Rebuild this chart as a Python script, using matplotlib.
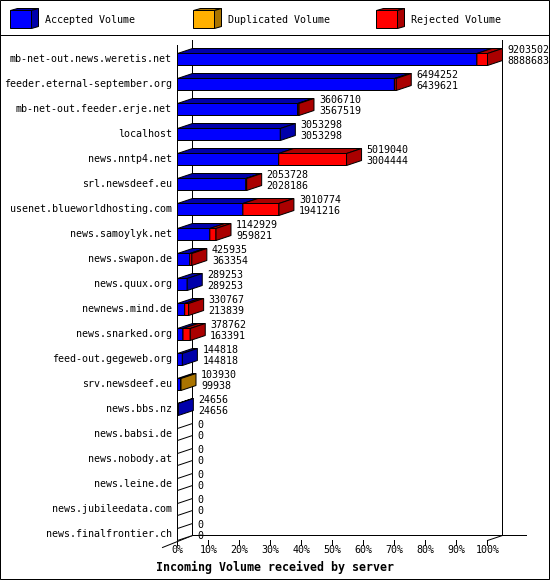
import matplotlib
matplotlib.use('Agg')
import matplotlib.pyplot as plt
from matplotlib.patches import Polygon, Rectangle
from matplotlib.lines import Line2D
from matplotlib.transforms import Affine2D

# ---------------- data ----------------
servers = [
    'mb-net-out.news.weretis.net', 'feeder.eternal-september.org',
    'mb-net-out.feeder.erje.net', 'localhost', 'news.nntp4.net',
    'srl.newsdeef.eu', 'usenet.blueworldhosting.com', 'news.samoylyk.net',
    'news.swapon.de', 'news.quux.org', 'newnews.mind.de', 'news.snarked.org',
    'feed-out.gegeweb.org', 'srv.newsdeef.eu', 'news.bbs.nz', 'news.babsi.de',
    'news.nobody.at', 'news.leine.de', 'news.jubileedata.com',
    'news.finalfrontier.ch',
]
total = [9203502, 6494252, 3606710, 3053298, 5019040, 2053728, 3010774,
         1142929, 425935, 289253, 330767, 378762, 144818, 103930, 24656,
         0, 0, 0, 0, 0]
accepted = [8888683, 6439621, 3567519, 3053298, 3004444, 2028186, 1941216,
            959821, 363354, 289253, 213839, 163391, 144818, 99938, 24656,
            0, 0, 0, 0, 0]
duplicated = [0, 0, 0, 0, 0, 0, 0, 0, 0, 0, 0, 0, 0, 3992, 0,
              0, 0, 0, 0, 0]
rejected = [t - a - d for t, a, d in zip(total, accepted, duplicated)]

series_names = ['Accepted Volume', 'Duplicated Volume', 'Rejected Volume']
front_colors = ['#0000ff', '#ffb000', '#ff0000']
dark_colors = ['#0000aa', '#aa7400', '#aa0000']
pct_ticks = [0, 10, 20, 30, 40, 50, 60, 70, 80, 90, 100]
title = 'Incoming Volume received by server'

# ---------------- layout ----------------
W, H = 550, 580
X0, X100 = 177.5, 487.5      # pixel position of 0% and 100%
PXPCT = (X100 - X0) / 100.0
ROW0, ROWH = 59.5, 25        # pixel centre of first row, row pitch
DX = 15 / PXPCT              # 3-D depth (x) in data units
DY = -5 / ROWH               # 3-D depth (y) in data units
HALF_T, HALF_B = 6 / ROWH, 6 / ROWH

FONT = 'DejaVu Sans Mono'
FS = 7.2
LW = 0.72
AA = True

fig = plt.figure(figsize=(W / 100, H / 100), dpi=100)
fig.patch.set_facecolor('white')
ax = fig.add_axes([0, 0, 1, 1])
ax.set_axis_off()
ax.set_xlim(-X0 / PXPCT, (W - X0) / PXPCT)
ax.set_ylim((H - ROW0) / ROWH, -ROW0 / ROWH)

pix = Affine2D().scale(1.0 / W, -1.0 / H).translate(0, 1) + fig.transFigure


def ry(px):
    return (px - ROW0) / ROWH


def rx(px):
    return (px - X0) / PXPCT


def line(xs, ys, **kw):
    ax.add_line(Line2D(xs, ys, color='black', lw=LW, antialiased=AA,
                       solid_capstyle='projecting', snap=False, **kw))


# walls / floor
y_top_front, y_top_back = ry(45.5), ry(40.5)
y_floor_front, y_floor_back = ry(540.5), ry(535.5)
line([0, 0], [y_top_front, ry(541.5)])
line([DX, DX], [y_top_back, y_floor_back])
line([100 + DX, 100 + DX], [y_top_back, y_floor_back])
line([DX, rx(526.5)], [y_floor_back, y_floor_back])
line([DX, -DX], [y_floor_back, ry(547.5)])
line([100, 100 + DX], [y_floor_front, y_floor_back])
for t in pct_ticks:
    line([t, t], [y_floor_front, ry(545.5)])
    ax.text(t, ry(550.5), f'{t}%', ha='center', va='center',
            family=FONT, fontsize=FS)

vmax = max(total)


def poly(pts, fc, z=3):
    ax.add_patch(Polygon(pts, closed=True, facecolor=fc, edgecolor='black',
                         lw=LW, antialiased=AA, zorder=z, joinstyle='miter',
                         snap=False))


for i, name in enumerate(servers):
    segs = [accepted[i], duplicated[i], rejected[i]]
    yt, yb = i - HALF_T, i + HALF_B
    cum = 0.0
    last = None
    for k, v in enumerate(segs):
        if v <= 0:
            continue
        w = v / vmax * 100
        x0, x1 = cum, cum + w
        poly([(x0, yt), (x1, yt), (x1, yb), (x0, yb)], front_colors[k])
        poly([(x0, yt), (x1, yt), (x1 + DX, yt + DY), (x0 + DX, yt + DY)],
             dark_colors[k])
        cum = x1
        last = k
    side_fc = dark_colors[last] if last is not None else 'white'
    poly([(cum, yt), (cum + DX, yt + DY), (cum + DX, yb + DY), (cum, yb)],
         side_fc, z=4)
    lx = cum + DX + 5 / PXPCT
    ax.text(lx, i - 9 / ROWH, f'{total[i]}', ha='left', va='center',
            family=FONT, fontsize=FS, zorder=5)
    ax.text(lx, i + 1.5 / ROWH, f'{accepted[i]}', ha='left', va='center',
            family=FONT, fontsize=FS, zorder=5)
    ax.text(rx(172), i, name, ha='right', va='center',
            family=FONT, fontsize=FS)

# title
fig.text(W / 2, 567, title, transform=pix, ha='center', va='center',
         family=FONT, fontsize=8.4, fontweight='bold')

# legend
for k, nm in enumerate(series_names):
    bx = 10.5 + 183 * k
    kw = dict(closed=True, transform=pix, edgecolor='black', lw=LW,
              antialiased=AA, snap=False)
    fig.patches.append(Polygon([(bx, 10.5), (bx + 21, 10.5), (bx + 28, 8.5),
                                (bx + 7, 8.5)], facecolor=dark_colors[k], **kw))
    fig.patches.append(Polygon([(bx + 21, 10.5), (bx + 28, 8.5), (bx + 28, 26.5),
                                (bx + 21, 28.5)], facecolor=dark_colors[k], **kw))
    fig.patches.append(Polygon([(bx, 10.5), (bx + 21, 10.5), (bx + 21, 28.5),
                                (bx, 28.5)], facecolor=front_colors[k], **kw))
    fig.text(bx + 34.5, 20, nm, transform=pix, ha='left', va='center',
             family=FONT, fontsize=FS)

fig.lines.append(Line2D([0, W], [35.5, 35.5], transform=pix, color='black',
                        lw=LW, antialiased=AA, snap=False))
fig.patches.append(Rectangle((0.5, 0.5), W - 1, H - 1, transform=pix,
                             fill=False, edgecolor='black', lw=LW,
                             antialiased=AA, snap=False))

fig.savefig('out.png', dpi=100)
